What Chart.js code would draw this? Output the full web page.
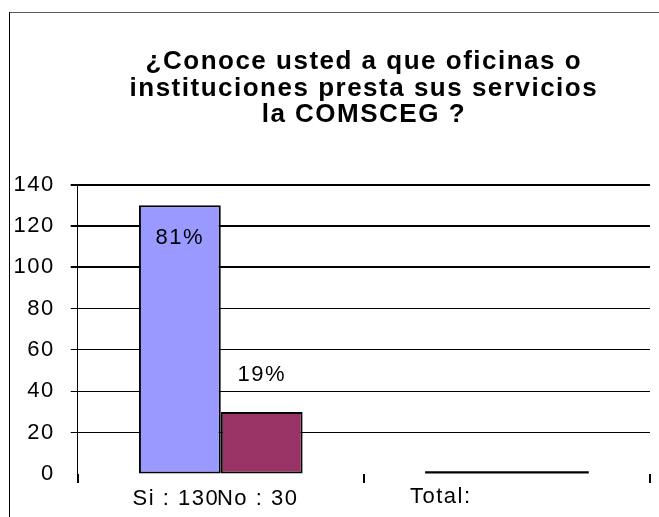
<!DOCTYPE html>
<html>
<head>
<meta charset="utf-8">
<script src="https://cdn.jsdelivr.net/npm/chart.js@4/dist/chart.umd.min.js"></script>
<style>
  html, body { margin: 0; padding: 0; background: #fff; }
</style>
</head>
<body>
<canvas id="chart" width="659" height="517"></canvas>
<script>
// ---- data ----
const titleLines = ["¿Conoce usted a que oficinas o", "instituciones presta sus servicios", "la COMSCEG ?"];
const categories = ["Si / No", "Total:"];
const answerLabels = ["Si : 130", "No : 30"];
const siValues = [130, null];
const noValues = [30, null];
const totalValues = [null, 1.3];
const percentLabels = ["81%", "19%"];

const FONT = "'Liberation Sans', Arial, sans-serif";
Chart.defaults.font.family = FONT;
Chart.defaults.color = "#000";

// text in the picture is a bit wider than plain Arial
const spacing = {
  id: "spacing",
  beforeDraw(chart) {
    const ctx = chart.ctx;
    ctx.letterSpacing = "1.5px";
    ctx.save();
    ctx.fillStyle = "#fff";
    ctx.fillRect(0, 0, chart.width, chart.height);
    // outer frame (top + left)
    ctx.lineWidth = 1;
    ctx.strokeStyle = "#5a5a5a";
    ctx.beginPath();
    ctx.moveTo(9, 12.5);
    ctx.lineTo(chart.width, 12.5);
    ctx.stroke();
    ctx.strokeStyle = "#000";
    ctx.beginPath();
    ctx.moveTo(9.5, 12);
    ctx.lineTo(9.5, chart.height);
    ctx.stroke();
    ctx.restore();
  }
};

// percent labels on bars + category texts under the axis
const barText = {
  id: "barText",
  afterDraw(chart) {
    const ctx = chart.ctx;
    const xs = chart.scales.x;
    ctx.save();
    ctx.font = "22px " + FONT;
    ctx.fillStyle = "#000";
    ctx.textAlign = "center";
    ctx.textBaseline = "middle";
    [0, 1].forEach((ds) => {
      const bar = chart.getDatasetMeta(ds).data[0];
      const y = ds === 0 ? bar.y + 33 : bar.y - 37;
      ctx.fillText(percentLabels[ds], bar.x, y);
      ctx.fillText(answerLabels[ds], bar.x - 4, xs.bottom + 16);
    });
    ctx.textAlign = "left";
    ctx.fillText(categories[1], xs.getPixelForValue(1) - 97, xs.bottom + 14);
    ctx.restore();
  }
};

new Chart(document.getElementById("chart"), {
  type: "bar",
  data: {
    labels: categories,
    datasets: [
      {
        label: "Si",
        data: siValues,
        backgroundColor: "#9999FF",
        borderColor: "#000",
        borderWidth: 2,
        borderSkipped: false,
      },
      {
        label: "No",
        data: noValues,
        backgroundColor: "#993366",
        borderColor: "#000",
        borderWidth: 2,
        borderSkipped: false,
      },
      {
        label: "Total",
        data: totalValues,
        backgroundColor: "#000",
        borderWidth: 0,
        grouped: false,
      },
    ],
  },
  options: {
    responsive: false,
    animation: false,
    devicePixelRatio: 1,
    datasets: {
      bar: { barPercentage: 1, categoryPercentage: 0.572 },
    },
    layout: {
      padding: { left: 2, right: 9, top: 0, bottom: 34 },
    },
    scales: {
      x: {
        ticks: { display: false },
        grid: {
          drawOnChartArea: false,
          tickLength: 9,
          color: "#000",
          lineWidth: 2,
          offset: true,
        },
        border: { display: false },
      },
      y: {
        min: 0,
        max: 140,
        ticks: {
          stepSize: 20,
          color: "#000",
          font: { size: 22 },
          padding: 16,
        },
        grid: {
          color: (c) => (c.tick.value === 0 ? "rgba(0,0,0,0)" : "#000"),
          lineWidth: (c) => (c.tick.value >= 100 ? 2 : 1),
          tickLength: 7,
        },
        border: { display: true, color: "#000", width: 1 },
      },
    },
    plugins: {
      legend: { display: false },
      tooltip: { enabled: false },
      title: {
        display: true,
        text: titleLines,
        fullSize: false,
        color: "#000",
        font: { size: 26, weight: "bold", lineHeight: 1.02 },
        padding: { top: 49, bottom: 56 },
      },
    },
  },
  plugins: [spacing, barText],
});
</script>
</body>
</html>
